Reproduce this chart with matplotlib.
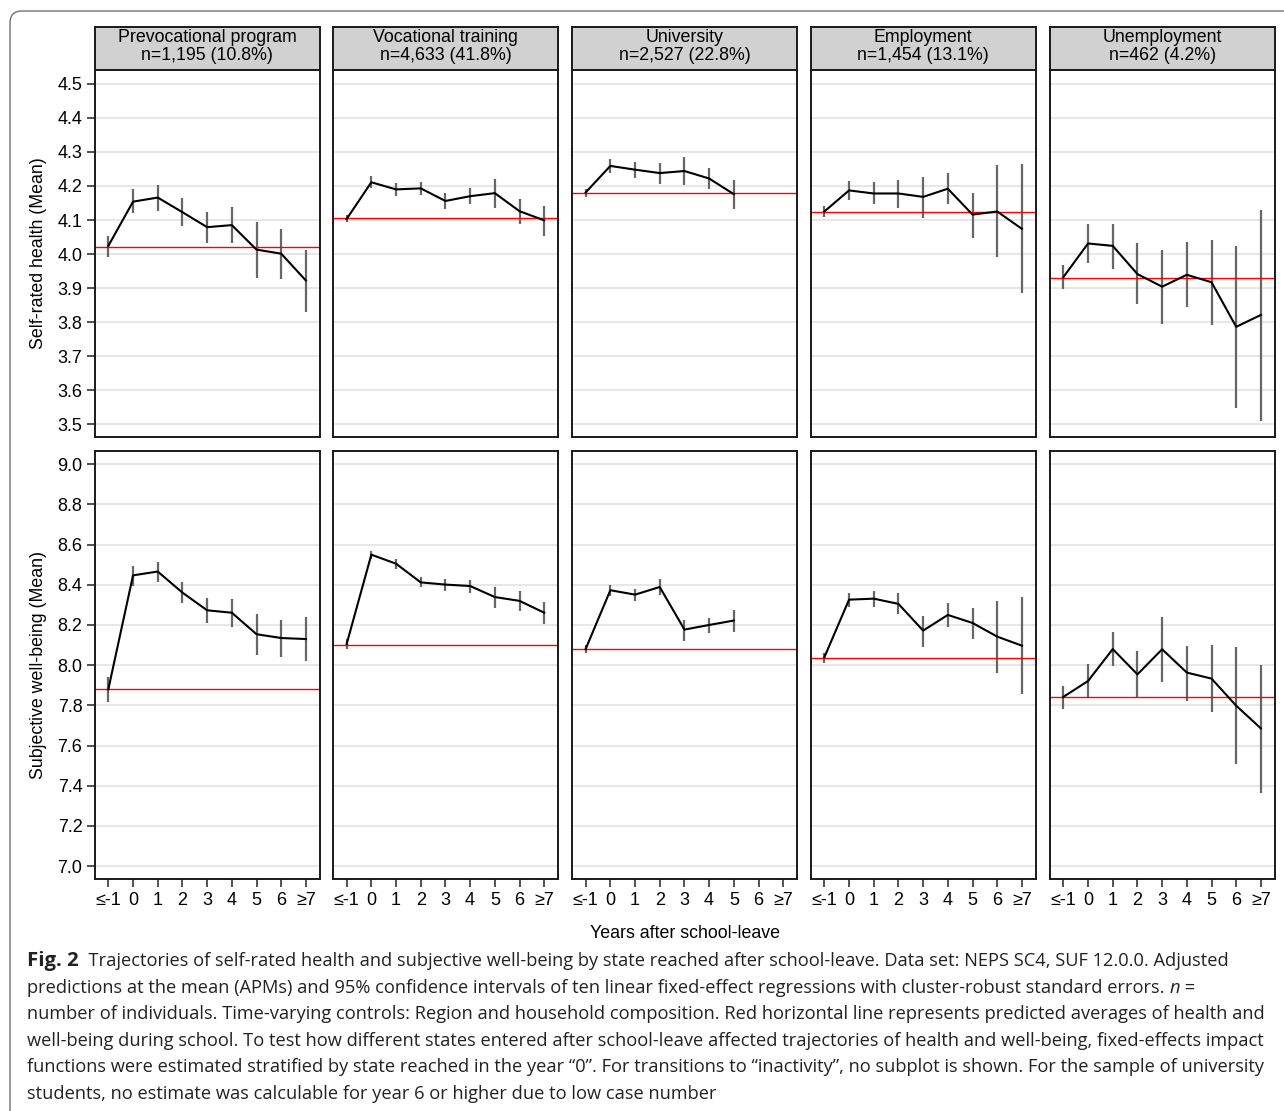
import numpy as np
import matplotlib
matplotlib.use('Agg')
import matplotlib.pyplot as plt
from matplotlib.patches import FancyBboxPatch
from matplotlib.transforms import IdentityTransform

W, H = 1284, 1111

# --- datos ---
years = ['≤-1', '0', '1', '2', '3', '4', '5', '6', '≥7']
states = ['Prevocational program', 'Vocational training', 'University',
          'Employment', 'Unemployment']
n_labels = ['n=1,195 (10.8%)', 'n=4,633 (41.8%)', 'n=2,527 (22.8%)',
            'n=1,454 (13.1%)', 'n=462 (4.2%)']

nan = np.nan

# Self-rated health
health_est = [
    [4.024, 4.154, 4.166, 4.123, 4.079, 4.085, 4.013, 4.001, 3.922],
    [4.103, 4.211, 4.190, 4.193, 4.156, 4.170, 4.179, 4.126, 4.099],
    [4.181, 4.259, 4.248, 4.238, 4.244, 4.222, 4.176, nan, nan],
    [4.125, 4.187, 4.178, 4.178, 4.168, 4.192, 4.116, 4.125, 4.074],
    [3.932, 4.031, 4.024, 3.941, 3.904, 3.939, 3.917, 3.786, 3.821],
]
health_lo = [
    [3.990, 4.120, 4.127, 4.083, 4.033, 4.033, 3.930, 3.928, 3.830],
    [4.093, 4.195, 4.172, 4.174, 4.131, 4.146, 4.136, 4.089, 4.054],
    [4.169, 4.237, 4.224, 4.207, 4.204, 4.190, 4.131, nan, nan],
    [4.108, 4.158, 4.146, 4.136, 4.106, 4.146, 4.048, 3.992, 3.884],
    [3.896, 3.975, 3.955, 3.852, 3.794, 3.845, 3.790, 3.546, 3.510],
]
health_hi = [
    [4.053, 4.190, 4.203, 4.164, 4.125, 4.137, 4.095, 4.074, 4.012],
    [4.115, 4.228, 4.208, 4.212, 4.178, 4.193, 4.222, 4.162, 4.141],
    [4.191, 4.278, 4.270, 4.268, 4.285, 4.253, 4.219, nan, nan],
    [4.141, 4.214, 4.211, 4.219, 4.227, 4.239, 4.179, 4.261, 4.264],
    [3.968, 4.087, 4.089, 4.031, 4.012, 4.036, 4.041, 4.023, 4.129],
]
health_school = [4.022, 4.105, 4.180, 4.124, 3.931]

# Subjective well-being
wellbeing_est = [
    [7.880, 8.447, 8.466, 8.361, 8.273, 8.261, 8.154, 8.135, 8.130],
    [8.105, 8.550, 8.505, 8.412, 8.401, 8.394, 8.339, 8.320, 8.261],
    [8.080, 8.373, 8.351, 8.389, 8.177, 8.200, 8.222, nan, nan],
    [8.039, 8.326, 8.331, 8.305, 8.172, 8.250, 8.210, 8.142, 8.097],
    [7.842, 7.921, 8.080, 7.954, 8.079, 7.963, 7.933, 7.798, 7.685],
]
wellbeing_lo = [
    [7.818, 8.394, 8.416, 8.308, 8.208, 8.192, 8.049, 8.042, 8.019],
    [8.081, 8.529, 8.480, 8.388, 8.371, 8.361, 8.283, 8.270, 8.203],
    [8.062, 8.346, 8.318, 8.348, 8.122, 8.162, 8.163, nan, nan],
    [8.012, 8.291, 8.291, 8.253, 8.092, 8.190, 8.130, 7.963, 7.855],
    [7.783, 7.835, 7.996, 7.835, 7.918, 7.823, 7.765, 7.506, 7.365],
]
wellbeing_hi = [
    [7.939, 8.494, 8.514, 8.414, 8.334, 8.329, 8.256, 8.227, 8.241],
    [8.129, 8.570, 8.527, 8.437, 8.427, 8.424, 8.391, 8.371, 8.315],
    [8.100, 8.398, 8.378, 8.429, 8.225, 8.237, 8.276, nan, nan],
    [8.059, 8.358, 8.371, 8.359, 8.247, 8.308, 8.286, 8.318, 8.338],
    [7.896, 8.004, 8.163, 8.071, 8.240, 8.097, 8.098, 8.092, 8.001],
]
wellbeing_school = [7.880, 8.102, 8.080, 8.034, 7.840]

health_ticks = [3.5, 3.6, 3.7, 3.8, 3.9, 4.0, 4.1, 4.2, 4.3, 4.4, 4.5]
wellbeing_ticks = [7.0, 7.2, 7.4, 7.6, 7.8, 8.0, 8.2, 8.4, 8.6, 8.8, 9.0]

caption_lines = [
    [('Fig. 2', 'bold', 'normal'),
     ('  Trajectories of self-rated health and subjective well-being by state reached after '
      'school-leave. Data set: NEPS SC4, SUF 12.0.0. Adjusted', 'normal', 'normal')],
    [('predictions at the mean (APMs) and 95% confidence intervals of ten linear fixed-effect '
      'regressions with cluster-robust standard errors. ', 'normal', 'normal'),
     ('n', 'normal', 'italic'), (' =', 'normal', 'normal')],
    [('number of individuals. Time-varying controls: Region and household composition. Red '
      'horizontal line represents predicted averages of health and', 'normal', 'normal')],
    [('well-being during school. To test how different states entered after school-leave '
      'affected trajectories of health and well-being, fixed-effects impact', 'normal', 'normal')],
    [('functions were estimated stratified by state reached in the year \u201c0\u201d. For '
      'transitions to \u201cinactivity\u201d, no subplot is shown. For the sample of university',
      'normal', 'normal')],
    [('students, no estimate was calculable for year 6 or higher due to low case number',
      'normal', 'normal')],
]

# --- figura ---
plt.rcParams['font.family'] = ['Liberation Sans', 'DejaVu Sans']
fig = plt.figure(figsize=(W / 100, H / 100), dpi=100)
fig.patch.set_facecolor('white')


def px_rect(x0, y0, x1, y1):
    return [x0 / W, 1 - y1 / H, (x1 - x0) / W, (y1 - y0) / H]


panel_left = [95, 333.3, 572.3, 811, 1050]
panel_w = 224.5
strip_y = (27.3, 70)
rows = [(70, 436.7), (451, 879.3)]
x = np.arange(len(years))
txt_size = 12.8

outcomes = [
    (health_est, health_lo, health_hi, health_school, health_ticks,
     (3.463, 4.541), 'Self-rated health (Mean)'),
    (wellbeing_est, wellbeing_lo, wellbeing_hi, wellbeing_school, wellbeing_ticks,
     (6.934, 9.066), 'Subjective well-being (Mean)'),
]

for r, (est, lo, hi, school, ticks, ylim, ylabel) in enumerate(outcomes):
    for c in range(len(states)):
        x0 = panel_left[c]
        ax = fig.add_axes(px_rect(x0, rows[r][0], x0 + panel_w, rows[r][1]))
        ax.set_xlim(-0.54, 8.55)
        ax.set_ylim(*ylim)
        ax.set_yticks(ticks)
        ax.yaxis.grid(True, color='#e5e5e5', lw=1.3)
        ax.set_axisbelow(True)
        ax.axhline(school[c], color='#ff0000', lw=1.0, zorder=2.5)
        ax.vlines(x, lo[c], hi[c], color='#666666', lw=1.6, zorder=2)
        ax.plot(x, est[c], color='black', lw=1.5, zorder=3)
        for s in ax.spines.values():
            s.set_color('#1a1a1a')
            s.set_linewidth(1.4)
        ax.set_xticks(x)
        if r == 1:
            ax.set_xticklabels(years, fontsize=13)
            ax.tick_params(axis='x', length=6, width=1.2, color='#333333', pad=3)
        else:
            ax.tick_params(axis='x', bottom=False, labelbottom=False)
        if c == 0:
            ax.set_yticklabels(['%.1f' % t for t in ticks], fontsize=13)
            ax.tick_params(axis='y', length=6, width=1.2, color='#333333', pad=3)
            ax.set_ylabel(ylabel, fontsize=txt_size)
            ax.yaxis.set_label_coords(-0.215, 0.5)
        else:
            ax.tick_params(axis='y', left=False, labelleft=False)

        if r == 0:
            sax = fig.add_axes(px_rect(x0, strip_y[0], x0 + panel_w, strip_y[1]))
            sax.set_facecolor('#d1d1d1')
            sax.set_xticks([])
            sax.set_yticks([])
            for s in sax.spines.values():
                s.set_color('#1a1a1a')
                s.set_linewidth(1.4)
            sax.text(0.5, 0.56, states[c] + '\n' + n_labels[c], transform=sax.transAxes,
                     ha='center', va='center', fontsize=txt_size, linespacing=1.08)

fig.text(685 / W, 1 - 934 / H, 'Years after school-leave', ha='center', va='center',
         fontsize=txt_size)

# marco exterior de la pagina (solo izquierda y arriba)
frame = FancyBboxPatch((10, -60), 1500, (H - 11) + 60,
                       boxstyle='round,pad=0,rounding_size=12',
                       transform=IdentityTransform(), fill=False,
                       edgecolor='#707070', lw=1.0)
fig.add_artist(frame)

# --- leyenda / caption ---
cap_font = ['Open Sans', 'DejaVu Sans']
renderer = fig.canvas.get_renderer()
probe = fig.text(0, 0, caption_lines[3][0][0], fontsize=10, family=cap_font)
w10 = probe.get_window_extent(renderer).width
probe.remove()
cap_size = 10 * 1237.0 / w10

base0 = 966
for i, parts in enumerate(caption_lines):
    xp = 27.0
    yb = base0 + i * 26.6
    for txt, weight, style in parts:
        size = cap_size * 1.12 if weight == 'bold' else cap_size
        t = fig.text(xp / W, 1 - yb / H, txt, fontsize=size, family=cap_font,
                     weight=weight, style=style, va='baseline', ha='left',
                     color='#222222')
        xp += t.get_window_extent(renderer).width

fig.savefig('out.png', dpi=100, facecolor='white')
